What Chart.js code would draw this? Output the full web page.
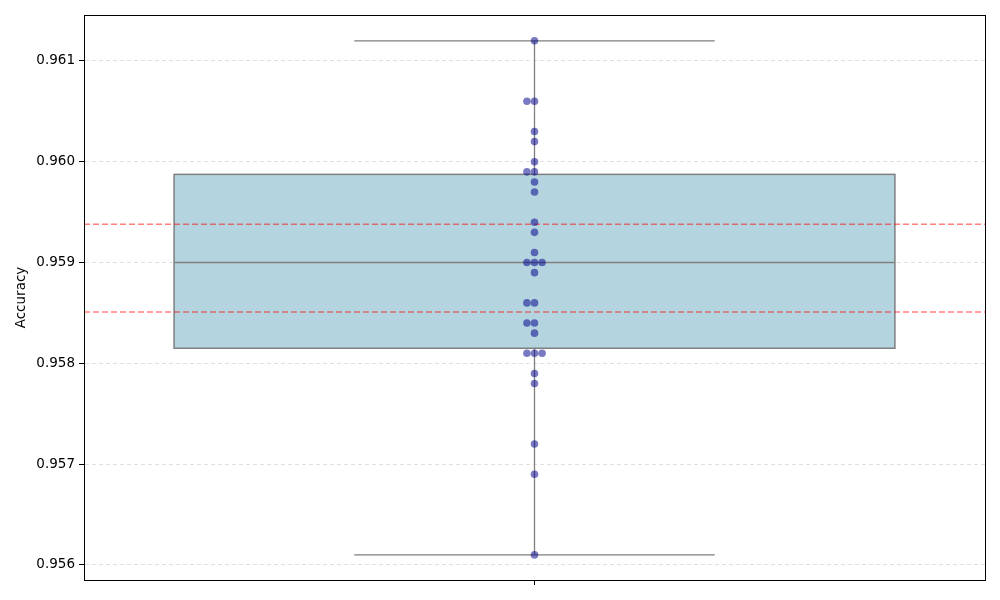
<!DOCTYPE html>
<html><head><meta charset="utf-8">
<script src="https://cdn.jsdelivr.net/npm/chart.js@4.4.1/dist/chart.umd.min.js"></script>
<style>html,body{margin:0;padding:0;background:#fff}#wrap{width:1000px;height:600px}</style>
</head><body><div id="wrap"><canvas id="c" width="1000" height="600"></canvas></div>
<script>
const accuracyValues = [0.9612, 0.9606, 0.9606, 0.9603, 0.9602, 0.9600, 0.9599, 0.9599, 0.9598, 0.9597,
  0.9594, 0.9593, 0.9591, 0.9590, 0.9590, 0.9590, 0.9589, 0.9586, 0.9586, 0.9584, 0.9584, 0.9583,
  0.9581, 0.9581, 0.9581, 0.9579, 0.9578, 0.9572, 0.9569, 0.9561];
const boxStats = { whiskerLow: 0.9561, q1: 0.95815, median: 0.9590, q3: 0.959875, whiskerHigh: 0.9612 };
const refLines = [0.95938, 0.95851];
const yTicks = [0.956, 0.957, 0.958, 0.959, 0.960, 0.961];
const yRange = [0.955851, 0.961456];

// swarm-like arrangement of duplicate values
const step = 0.0084;
const seen = {};
const points = accuracyValues.map(v => {
  const k = v.toFixed(4);
  const n = seen[k] || 0; seen[k] = n + 1;
  const off = [0, -1, 1, -2, 2][n] * step;
  return { x: off, y: v };
});

const boxPlugin = {
  id: 'boxPlugin',
  beforeDatasetsDraw(chart) {
    const ctx = chart.ctx, xs = chart.scales.x, ys = chart.scales.y;
    const X = v => xs.getPixelForValue(v), Y = v => ys.getPixelForValue(v);
    ctx.save();
    ctx.strokeStyle = '#7f7f7f'; ctx.lineWidth = 1.3;
    ctx.beginPath();
    ctx.moveTo(X(0), Y(boxStats.q3)); ctx.lineTo(X(0), Y(boxStats.whiskerHigh));
    ctx.moveTo(X(0), Y(boxStats.q1)); ctx.lineTo(X(0), Y(boxStats.whiskerLow));
    ctx.moveTo(X(-0.2), Y(boxStats.whiskerHigh)); ctx.lineTo(X(0.2), Y(boxStats.whiskerHigh));
    ctx.moveTo(X(-0.2), Y(boxStats.whiskerLow)); ctx.lineTo(X(0.2), Y(boxStats.whiskerLow));
    ctx.stroke();
    const x0 = X(-0.4), x1 = X(0.4), yt = Y(boxStats.q3), yb = Y(boxStats.q1);
    ctx.fillStyle = '#b4d4df';
    ctx.fillRect(x0, yt, x1 - x0, yb - yt);
    ctx.lineWidth = 1.5;
    ctx.strokeRect(x0, yt, x1 - x0, yb - yt);
    ctx.beginPath();
    ctx.moveTo(x0, Y(boxStats.median)); ctx.lineTo(x1, Y(boxStats.median));
    ctx.stroke();
    ctx.strokeStyle = 'rgba(255,0,0,0.5)'; ctx.lineWidth = 1.6; ctx.setLineDash([6, 3]);
    refLines.forEach(v => {
      ctx.beginPath(); ctx.moveTo(xs.left, Y(v)); ctx.lineTo(xs.right, Y(v)); ctx.stroke();
    });
    ctx.restore();
  },
  afterDraw(chart) {
    const ctx = chart.ctx, a = chart.chartArea;
    ctx.save();
    ctx.strokeStyle = '#000'; ctx.lineWidth = 1;
    ctx.strokeRect(Math.round(a.left) + 0.5, Math.round(a.top) + 0.5, Math.round(a.right - a.left), Math.round(a.bottom - a.top));
    ctx.restore();
  }
};

new Chart(document.getElementById('c'), {
  type: 'scatter',
  data: { datasets: [{ data: points, backgroundColor: 'rgba(0,0,139,0.52)', borderWidth: 0, pointRadius: 3.8 }] },
  options: {
    responsive: false, animation: false,
    layout: { padding: { left: 13, right: 15, top: 15, bottom: 0 } },
    plugins: { legend: { display: false }, tooltip: { enabled: false } },
    scales: {
      x: {
        type: 'linear', min: -0.5, max: 0.5,
        afterBuildTicks: s => { s.ticks = [{ value: 0 }]; },
        afterFit: s => { s.height = 20; },
        ticks: { callback: () => '', padding: 0 },
        grid: { drawOnChartArea: false, tickLength: 5, color: '#000', tickWidth: 1 },
        border: { color: '#000', width: 1 }
      },
      y: {
        min: yRange[0], max: yRange[1],
        afterBuildTicks: s => { s.ticks = yTicks.map(v => ({ value: v })); },
        afterFit: s => { s.width = 71; },
        ticks: { callback: v => Number(v).toFixed(3), color: '#000', font: { family: 'DejaVu Sans', size: 13.5 }, padding: 4 },
        grid: { color: '#e0e0e0', lineWidth: 1, tickLength: 5, tickColor: '#000', tickBorderDash: [] },
        border: { color: '#000', width: 1, dash: [4, 3] },
        title: { display: true, text: 'Accuracy', color: '#000', font: { family: 'DejaVu Sans', size: 13.5 }, padding: { top: 0, bottom: 4 } }
      }
    }
  },
  plugins: [boxPlugin]
});
</script></body></html>
